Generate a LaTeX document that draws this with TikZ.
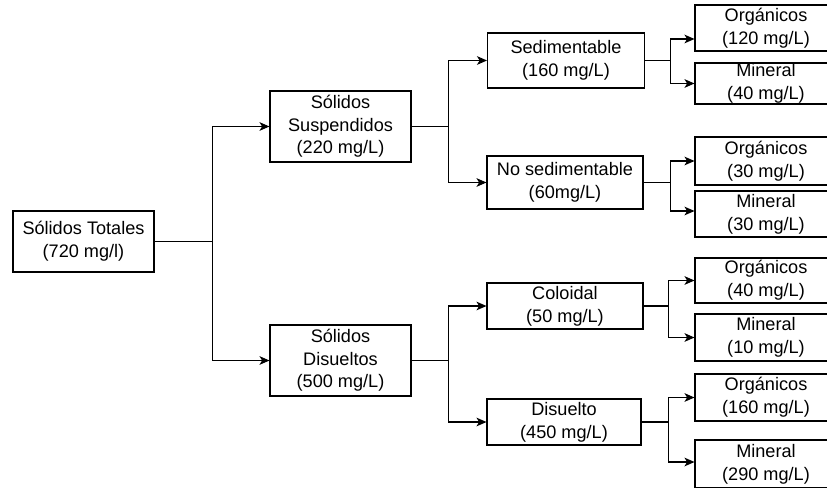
\documentclass[tikz,border=0pt]{standalone}
\usepackage{fontspec}
\setmainfont{Liberation Sans}
\usetikzlibrary{arrows.meta}

\begin{document}
\begin{tikzpicture}[x=0.75pt,y=-0.75pt,
    box/.style={draw, line width=0.8pt, align=center, inner sep=0pt,
      font=\fontsize{13.6}{17}\selectfont},
    arr/.style={line width=0.8pt, -{Stealth[length=7.5pt,width=6.5pt,inset=2pt]}}]
        % ---- page frame (right column is cut at the edge) ------
        \useasboundingbox (0,0) rectangle (827,488);
        \clip (0,0) rectangle (827,488);

        % ---- first two levels -----------------------------
        \node[box, minimum width=105.75pt, minimum height=45.75pt] (st) at (83.5,241.5) {Sólidos Totales\\(720 mg/l)};
        \node[box, minimum width=105.75pt, minimum height=53.25pt] (ss) at (340.5,126.5) {Sólidos\\Suspendidos\\(220 mg/L)};
        \node[box, minimum width=105.75pt, minimum height=53.25pt] (sd) at (340.5,360.5) {Sólidos\\Disueltos\\(500 mg/L)};

        % ---- third level ----------------------------------
        \node[box, minimum width=117.75pt, minimum height=41.25pt] (sed)  at (566,60.5)  {Sedimentable\\(160 mg/L)};
        \node[box, minimum width=117pt,    minimum height=39.75pt] (nsed) at (565,182.5) {No sedimentable\\(60mg/L)};
        \node[box, minimum width=117pt,    minimum height=34.5pt]  (col)  at (565,306)   {Coloidal\\(50 mg/L)};
        \node[box, minimum width=115.5pt,  minimum height=34.5pt]  (dis)  at (564,422)   {Disuelto\\(450 mg/L)};

        % ---- right column ---------------------------------
        \node[box, minimum width=106.5pt, minimum height=34.5pt]  (o1) at (766,28)    {Orgánicos\\(120 mg/L)};
        \node[box, minimum width=106.5pt, minimum height=30.75pt] (m1) at (766,83.5)  {Mineral\\(40 mg/L)};
        \node[box, minimum width=106.5pt, minimum height=36pt]    (o2) at (766,161)   {Orgánicos\\(30 mg/L)};
        \node[box, minimum width=106.5pt, minimum height=34.5pt]  (m2) at (766,214)   {Mineral\\(30 mg/L)};
        \node[box, minimum width=106.5pt, minimum height=33.75pt] (o3) at (766,280.5) {Orgánicos\\(40 mg/L)};
        \node[box, minimum width=106.5pt, minimum height=35.25pt] (m3) at (766,337.5) {Mineral\\(10 mg/L)};
        \node[box, minimum width=106.5pt, minimum height=35.25pt] (o4) at (766,397.5) {Orgánicos\\(160 mg/L)};
        \node[box, minimum width=106.5pt, minimum height=36pt]    (m4) at (766,464)   {Mineral\\(290 mg/L)};

        % ---- connectors -----------------------------------
        \draw[arr] (st.east) -- ++(58,0) |- (ss.west);
        \draw[arr] (st.east) -- ++(58,0) |- (sd.west);

        \draw[arr] (ss.east) -- ++(37,0) |- (sed.west);
        \draw[arr] (ss.east) -- ++(37,0) |- (nsed.west);
        \draw[arr] (sd.east) -- ++(37,0) |- (col.west);
        \draw[arr] (sd.east) -- ++(37,0) |- (dis.west);

        \draw[arr] (sed.east)  -- ++(25,0) |- ([yshift=-8.25pt]o1.west);
        \draw[arr] (sed.east)  -- ++(25,0) |- (m1.west);
        \draw[arr] (nsed.east) -- ++(27,0) |- (o2.west);
        \draw[arr] (nsed.east) -- ++(27,0) |- ([yshift=2.25pt]m2.west);
        \draw[arr] (col.east)  -- ++(25,0) |- (o3.west);
        \draw[arr] (col.east)  -- ++(25,0) |- (m3.west);
        \draw[arr] (dis.east)  -- ++(27,0) |- (o4.west);
        \draw[arr] (dis.east)  -- ++(27,0) |- ([yshift=1.5pt]m4.west);
    \end{tikzpicture}
\end{document}
